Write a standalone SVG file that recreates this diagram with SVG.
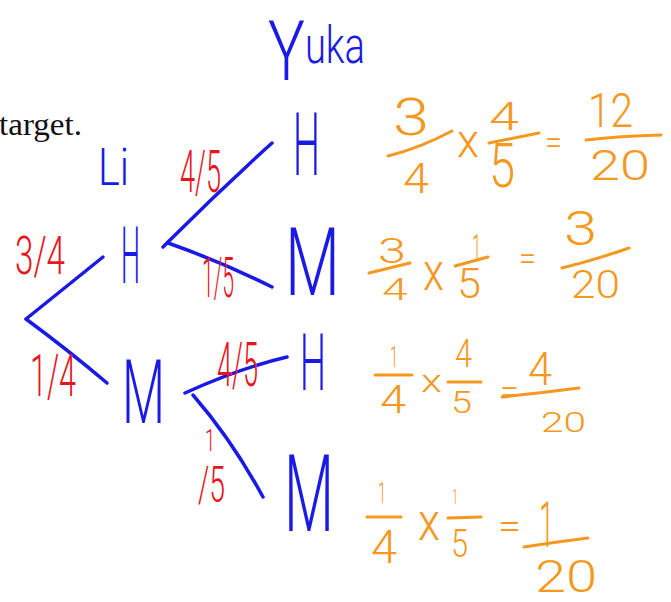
<svg xmlns="http://www.w3.org/2000/svg" width="671" height="602" viewBox="0 0 671 602">
<style>
text{font-family:Roboto,"Liberation Sans",sans-serif;font-weight:300}
.b{fill:#1a1ae6}
.r{fill:#e8161c}
.o{fill:#f5981f}
.k{fill:#111;font-family:"Liberation Serif",serif;font-weight:400}
.edge{fill:none;stroke:#1a1ae6;stroke-width:3.5;stroke-linecap:round;stroke-linejoin:round}
.bar{fill:none;stroke:#f5981f;stroke-width:3;stroke-linecap:round}
</style>
<rect width="671" height="602" fill="#fff"/>
<text class="k" x="-1" y="135" font-size="32" textLength="83" lengthAdjust="spacingAndGlyphs">target.</text>

<g id="connectors">
<path class="edge" d="M26,319 Q62,290 103,257"/>
<path class="edge" d="M26,319 Q68,350 107,383"/>
<path class="edge" d="M163,247 L168,242 Q220,190 272,143"/>
<path class="edge" d="M168,243 Q222,262 272,287"/>
<path class="edge" d="M185,393 Q240,368 287,357"/>
<path class="edge" d="M193,395 Q232,440 263,497"/>
</g>

<g id="edge-labels">
<text class="r" x="15" y="274" font-size="54" textLength="50" lengthAdjust="spacingAndGlyphs">3/4</text>
<text class="r" x="30" y="396" font-size="60" textLength="46" lengthAdjust="spacingAndGlyphs">1/4</text>
<text class="r" x="180" y="192" font-size="60" textLength="41" lengthAdjust="spacingAndGlyphs">4/5</text>
<text class="r" x="202" y="297" font-size="56" textLength="32" lengthAdjust="spacingAndGlyphs">1/5</text>
<text class="r" x="217" y="386" font-size="62" textLength="41" lengthAdjust="spacingAndGlyphs">4/5</text>
<text class="r" x="198" y="502" textLength="37" lengthAdjust="spacingAndGlyphs"><tspan x="205" y="451" font-size="32">1</tspan><tspan x="198" y="502" font-size="50">/5</tspan></text>
</g>

<g id="yuka-title">
<text class="b" x="268" y="80" font-size="84" textLength="97" lengthAdjust="spacingAndGlyphs">Y<tspan font-size="52" dy="-17">uka</tspan></text>
</g>
<g id="li-title">
<text class="b" x="98" y="185" font-size="52" textLength="31" lengthAdjust="spacingAndGlyphs">Li</text>
</g>
<g id="li-h">
<text class="b" x="121" y="283" font-size="79" textLength="19" lengthAdjust="spacingAndGlyphs">H</text>
</g>
<g id="li-m">
<text class="b" x="122" y="423" font-size="89" textLength="43" lengthAdjust="spacingAndGlyphs">M</text>
</g>
<g id="hh">
<text class="b" x="293" y="175" font-size="87" textLength="27" lengthAdjust="spacingAndGlyphs">H</text>
</g>
<g id="hm">
<text class="b" x="285" y="295" font-size="94" textLength="55" lengthAdjust="spacingAndGlyphs">M</text>
</g>
<g id="mh">
<text class="b" x="300" y="390" font-size="80" textLength="26" lengthAdjust="spacingAndGlyphs">H</text>
</g>
<g id="mm">
<text class="b" x="284" y="531" font-size="107" textLength="50" lengthAdjust="spacingAndGlyphs">M</text>
</g>

<g id="calc-hh">
<text class="o" x="393" y="135" font-size="52" textLength="36" lengthAdjust="spacingAndGlyphs">3</text>
<path class="bar" d="M388,156 Q420,148 452,131"/>
<text class="o" x="403" y="193" font-size="42" textLength="26" lengthAdjust="spacingAndGlyphs">4</text>
<text class="o" x="457" y="157" font-size="47" textLength="22" lengthAdjust="spacingAndGlyphs">x</text>
<text class="o" x="489" y="130" font-size="38" textLength="30" lengthAdjust="spacingAndGlyphs">4</text>
<path class="bar" d="M489,143 L539,133"/>
<text class="o" x="489" y="187" font-size="62" textLength="26" lengthAdjust="spacingAndGlyphs">5</text>
<text class="o" x="545" y="154" font-size="34" textLength="17" lengthAdjust="spacingAndGlyphs">=</text>
<text class="o" x="588" y="127" font-size="49" textLength="45" lengthAdjust="spacingAndGlyphs">12</text>
<path class="bar" d="M586,140 Q620,136 661,135"/>
<text class="o" x="590" y="180" font-size="42" textLength="60" lengthAdjust="spacingAndGlyphs">20</text>
</g>

<g id="calc-hm">
<text class="o" x="378" y="263" font-size="35" textLength="28" lengthAdjust="spacingAndGlyphs">3</text>
<path class="bar" d="M369,273 L410,263"/>
<text class="o" x="382" y="300" font-size="31" textLength="26" lengthAdjust="spacingAndGlyphs">4</text>
<text class="o" x="423" y="290" font-size="51" textLength="21" lengthAdjust="spacingAndGlyphs">x</text>
<text class="o" x="472" y="262" font-size="38" textLength="9" lengthAdjust="spacingAndGlyphs">1</text>
<path class="bar" d="M455,266 L488,257"/>
<text class="o" x="457" y="298" font-size="43" textLength="24" lengthAdjust="spacingAndGlyphs">5</text>
<text class="o" x="519" y="270" font-size="34" textLength="17" lengthAdjust="spacingAndGlyphs">=</text>
<text class="o" x="564" y="245" font-size="48" textLength="33" lengthAdjust="spacingAndGlyphs">3</text>
<path class="bar" d="M562,268 Q595,260 629,248"/>
<text class="o" x="571" y="298" font-size="39" textLength="49" lengthAdjust="spacingAndGlyphs">20</text>
</g>

<g id="calc-mh">
<text class="o" x="390" y="367" font-size="30" textLength="8" lengthAdjust="spacingAndGlyphs">1</text>
<path class="bar" d="M375,375 L412,375"/>
<text class="o" x="380" y="413" font-size="39" textLength="26" lengthAdjust="spacingAndGlyphs">4</text>
<text class="o" x="421" y="392" font-size="32" textLength="21" lengthAdjust="spacingAndGlyphs">x</text>
<text class="o" x="455" y="367" font-size="38" textLength="17" lengthAdjust="spacingAndGlyphs">4</text>
<path class="bar" d="M448,382 L481,382"/>
<text class="o" x="451" y="413" font-size="32" textLength="21" lengthAdjust="spacingAndGlyphs">5</text>
<text class="o" x="500" y="403" font-size="34" textLength="19" lengthAdjust="spacingAndGlyphs">=</text>
<text class="o" x="528" y="385" font-size="46" textLength="24" lengthAdjust="spacingAndGlyphs">4</text>
<path class="bar" d="M502,397 Q540,393 579,388"/>
<text class="o" x="541" y="432" font-size="28" textLength="45" lengthAdjust="spacingAndGlyphs">20</text>
</g>

<g id="calc-mm">
<text class="o" x="378" y="503" font-size="29" textLength="8" lengthAdjust="spacingAndGlyphs">1</text>
<path class="bar" d="M367,517 L401,517"/>
<text class="o" x="371" y="563" font-size="46" textLength="26" lengthAdjust="spacingAndGlyphs">4</text>
<text class="o" x="418" y="540" font-size="51" textLength="22" lengthAdjust="spacingAndGlyphs">x</text>
<text class="o" x="452" y="504" font-size="20" textLength="6" lengthAdjust="spacingAndGlyphs">1</text>
<path class="bar" d="M448,518 L481,517"/>
<text class="o" x="451" y="557" font-size="38" textLength="17" lengthAdjust="spacingAndGlyphs">5</text>
<text class="o" x="498" y="539" font-size="36" textLength="23" lengthAdjust="spacingAndGlyphs">=</text>
<text class="o" x="539" y="547" font-size="65" textLength="15" lengthAdjust="spacingAndGlyphs">1</text>
<path class="bar" d="M524,547 Q556,542 588,538"/>
<text class="o" x="535" y="592" font-size="44" textLength="62" lengthAdjust="spacingAndGlyphs">20</text>
</g>
</svg>
